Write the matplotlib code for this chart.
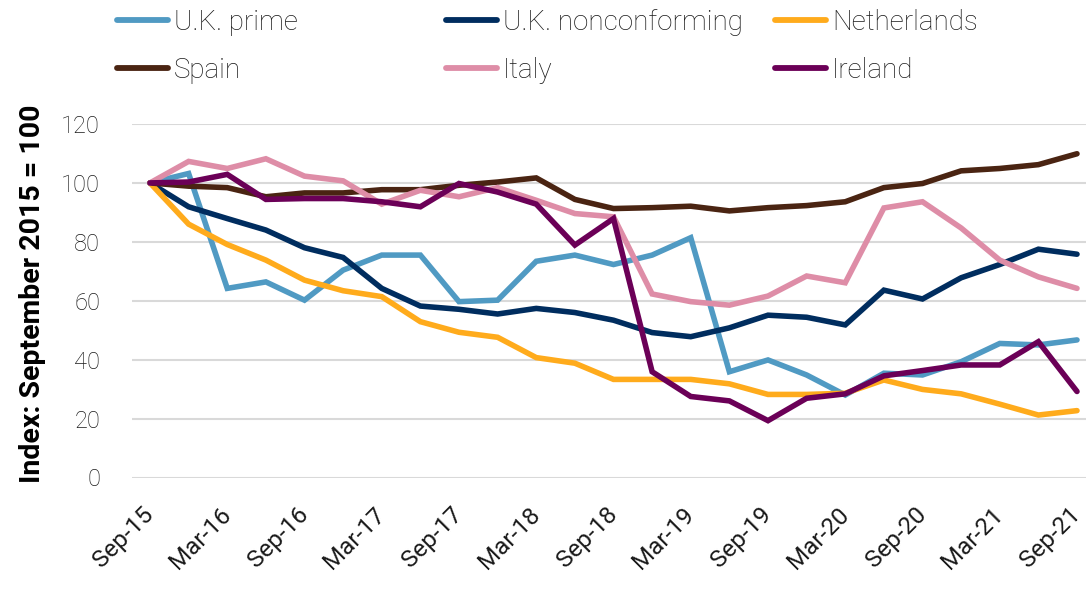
import matplotlib.pyplot as plt
from matplotlib.lines import Line2D

plt.rcParams['font.family'] = ['Roboto', 'DejaVu Sans']

quarters = ['Sep-15', 'Dec-15', 'Mar-16', 'Jun-16', 'Sep-16', 'Dec-16', 'Mar-17',
            'Jun-17', 'Sep-17', 'Dec-17', 'Mar-18', 'Jun-18', 'Sep-18', 'Dec-18',
            'Mar-19', 'Jun-19', 'Sep-19', 'Dec-19', 'Mar-20', 'Jun-20', 'Sep-20',
            'Dec-20', 'Mar-21', 'Jun-21', 'Sep-21']

uk_prime = [100, 103.2, 64.2, 66.4, 60.2, 70.4, 75.5, 75.5, 59.7, 60.2, 73.4, 75.5,
            72.3, 75.5, 81.4, 35.9, 39.9, 34.8, 28.0, 35.4, 34.8, 39.3, 45.5, 45.0, 46.7]
uk_nonconf = [100, 91.9, 87.9, 84.0, 78.0, 74.7, 64.2, 58.2, 57.1, 55.5, 57.4, 56.0,
              53.4, 49.2, 47.8, 50.8, 55.1, 54.4, 51.8, 63.6, 60.6, 67.8, 72.3, 77.5, 75.8]
netherlands = [100, 86.0, 79.1, 73.8, 67.0, 63.4, 61.4, 52.9, 49.3, 47.6, 40.7, 38.8,
               33.3, 33.3, 33.3, 31.8, 28.2, 28.2, 28.6, 33.1, 29.9, 28.4, 24.9, 21.2, 22.7]
spain = [100, 98.9, 98.4, 95.3, 96.6, 96.6, 97.7, 97.7, 99.2, 100.3, 101.7, 94.4,
         91.3, 91.6, 92.1, 90.5, 91.6, 92.3, 93.6, 98.4, 99.8, 104.1, 104.9, 106.2, 109.9]
italy = [100, 107.3, 104.9, 108.2, 102.3, 100.7, 92.8, 97.5, 95.3, 98.4, 94.1, 89.6,
         88.5, 62.3, 59.7, 58.5, 61.6, 68.4, 66.1, 91.5, 93.6, 84.7, 73.8, 68.1, 64.2]
ireland = [100, 100.3, 102.9, 94.4, 94.7, 94.7, 93.6, 91.9, 99.8, 96.9, 92.8, 78.9,
           87.9, 35.9, 27.5, 26.0, 19.3, 26.9, 28.4, 34.5, 36.3, 38.2, 38.2, 46.1, 29.2]

series = [
    ('U.K. prime', uk_prime, '#509AC3'),
    ('U.K. nonconforming', uk_nonconf, '#002D5F'),
    ('Netherlands', netherlands, '#FFAB1C'),
    ('Spain', spain, '#4A2412'),
    ('Italy', italy, '#DE8DA7'),
    ('Ireland', ireland, '#6B0057'),
]

W, H = 1086, 590
fig = plt.figure(figsize=(W / 100, H / 100), dpi=100)
ax = fig.add_axes([132 / W, 1 - 477.5 / H, (W - 132) / W, (477.5 - 124) / H])

x = list(range(len(quarters)))
for name, vals, col in series:
    ax.plot(x, vals, color=col, lw=4.0, solid_capstyle='round',
            solid_joinstyle='miter', clip_on=False)

ax.set_ylim(0, 120)
ax.set_yticks(range(0, 121, 20))
ax.set_xlim(-0.466, 24.233)
ax.set_xticks(x[::2])
ax.set_xticklabels(quarters[::2], rotation=45, ha='right', va='center',
                   rotation_mode='anchor')
ax.grid(axis='y', color='#D9D9D9', lw=1.5)
ax.set_axisbelow(True)
for s in ax.spines.values():
    s.set_visible(False)
ax.tick_params(axis='both', length=0, labelcolor='#1A1A1A')
ax.tick_params(axis='y', pad=23, labelsize=17)
ax.tick_params(axis='x', pad=24, labelsize=17.5)
for lab in ax.get_yticklabels():
    lab.set_fontweight('light')
ax.set_ylabel('Index: September 2015 = 100', fontsize=20.5, fontweight='bold')
ax.yaxis.set_label_coords(-0.09, 0.519)

# legend: three columns at fixed positions, two rows each
cols_x = [117, 446, 775]
for i, cx in enumerate(cols_x):
    handles = []
    labels = []
    for name, vals, col in (series[i], series[i + 3]):
        handles.append(Line2D([], [], color=col, lw=4.2, solid_capstyle='round'))
        labels.append(name)
    leg = fig.legend(handles, labels, loc='upper left',
                     bbox_to_anchor=(cx / W, 1 - 9 / H),
                     frameon=False, fontsize=20, handlelength=1.85,
                     handletextpad=0.2, labelspacing=0.75, borderaxespad=0,
                     borderpad=0)
    for t in leg.get_texts():
        t.set_fontweight('light')
        t.set_color('#1A1A1A')

fig.savefig('out.png', dpi=100)
